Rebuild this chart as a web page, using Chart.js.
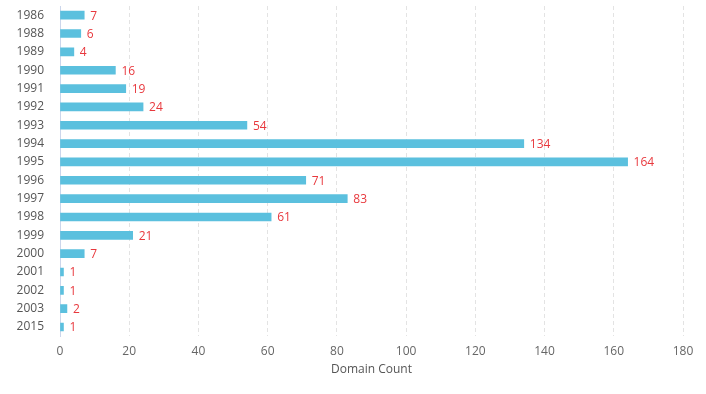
<!DOCTYPE html>
<html>
<head>
<meta charset="utf-8">
<script src="https://cdn.jsdelivr.net/npm/chart.js@4/dist/chart.umd.min.js"></script>
<style>
  html, body { margin: 0; padding: 0; background: #fff; }
  #wrap { width: 706px; height: 394px; }
</style>
</head>
<body>
<div id="wrap"><canvas id="c" width="706" height="394"></canvas></div>
<script>
// years and domain counts
const years = ['1986', '1988', '1989', '1990', '1991', '1992', '1993', '1994', '1995',
               '1996', '1997', '1998', '1999', '2000', '2001', '2002', '2003', '2015'];
const counts = [7, 6, 4, 16, 19, 24, 54, 134, 164, 71, 83, 61, 21, 7, 1, 1, 2, 1];
const xTicks = [0, 20, 40, 60, 80, 100, 120, 140, 160, 180];

const FONT = '"Open Sans", "Noto Sans", sans-serif';

// value labels to the right of each bar
const valueLabels = {
    id: 'valueLabels',
    afterDatasetsDraw(chart) {
        const ctx = chart.ctx;
        const meta = chart.getDatasetMeta(0);
        ctx.save();
        ctx.font = '12px ' + FONT;
        ctx.fillStyle = '#e8383d';
        ctx.textAlign = 'left';
        ctx.textBaseline = 'middle';
        meta.data.forEach((bar, i) => {
            ctx.fillText(String(counts[i]), bar.x + 6, bar.y + 1);
        });
        ctx.restore();
    }
};

new Chart(document.getElementById('c'), {
    type: 'bar',
    data: {
        labels: years,
        datasets: [{
            data: counts,
            backgroundColor: '#5bc0de',
            barThickness: 8,
            borderWidth: 0
        }]
    },
    options: {
        indexAxis: 'y',
        responsive: false,
        animation: false,
        layout: { padding: { top: 6, right: 23, bottom: 17, left: 0 } },
        plugins: { legend: { display: false }, tooltip: { enabled: false } },
        scales: {
            x: {
                min: 0,
                max: 180,
                afterBuildTicks(axis) { axis.ticks = xTicks.map(v => ({ value: v })); },
                grid: {
                    color: '#e3e3e3',
                    drawTicks: false
                },
                border: { display: false, dash: [4, 3] },
                ticks: { color: '#666', font: { family: FONT, size: 12 }, padding: 8 },
                title: {
                    display: true,
                    text: 'Domain Count',
                    color: '#555',
                    font: { family: FONT, size: 12 },
                    padding: { top: -4, bottom: 0 }
                }
            },
            y: {
                afterFit(axis) {
                    axis.width = 60;
                    axis.paddingTop = 0;
                    axis.paddingBottom = 0;
                },
                grid: { display: false, drawTicks: false },
                border: { display: true, color: '#ccd6eb', width: 1 },
                ticks: {
                    color: '#555',
                    autoSkip: false,
                    font: { family: FONT, size: 12 },
                    padding: 16
                }
            }
        }
    },
    plugins: [valueLabels]
});
</script>
</body>
</html>
